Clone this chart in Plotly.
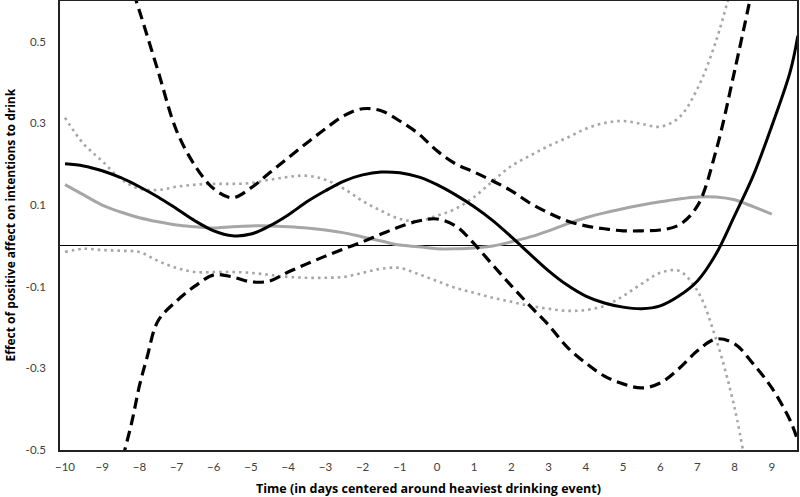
import plotly.graph_objects as go

# Days relative to heaviest drinking event
x_est = [-10, -9.5, -9, -8.5, -8, -7.5, -7, -6.5, -6, -5.5, -5, -4.5, -4, -3.5, -3, -2.5, -2, -1.5, -1, -0.5,
         0, 0.5, 1, 1.5, 2, 2.5, 3, 3.5, 4, 4.5, 5, 5.5, 6, 6.5, 7, 7.5, 8, 8.5, 9, 9.5, 9.7]
black_est = [0.201, 0.196, 0.184, 0.167, 0.145, 0.120, 0.091, 0.061, 0.037, 0.025, 0.029, 0.049, 0.076, 0.108,
             0.135, 0.159, 0.174, 0.181, 0.179, 0.169, 0.150, 0.125, 0.096, 0.062, 0.022, -0.020, -0.061, -0.096,
             -0.123, -0.140, -0.150, -0.154, -0.147, -0.123, -0.086, -0.020, 0.074, 0.172, 0.294, 0.429, 0.515]

x_gray = [-10, -9.5, -9, -8.5, -8, -7.5, -7, -6.5, -6, -5.5, -5, -4.5, -4, -3.5, -3, -2.5, -2, -1.5, -1, -0.5,
          0, 0.5, 1, 1.5, 2, 2.5, 3, 3.5, 4, 4.5, 5, 5.5, 6, 6.5, 7, 7.5, 8, 8.5, 9]
gray_est = [0.150, 0.125, 0.100, 0.083, 0.069, 0.059, 0.051, 0.047, 0.044, 0.047, 0.049, 0.049, 0.047, 0.044,
            0.039, 0.032, 0.022, 0.012, 0.002, -0.002, -0.007, -0.007, -0.005, 0.000, 0.010, 0.022, 0.037, 0.054,
            0.069, 0.081, 0.091, 0.100, 0.108, 0.115, 0.120, 0.120, 0.113, 0.096, 0.078]

x_black_up = [-8.3, -8, -7.5, -7, -6.5, -6, -5.5, -5, -4.5, -4, -3.5, -3, -2.5, -2, -1.5, -1, -0.5,
              0, 0.5, 1, 1.5, 2, 2.5, 3, 3.5, 4, 4.5, 5, 5.5, 6, 6.5, 7, 7.5, 8, 8.5]
black_up = [0.66, 0.576, 0.429, 0.282, 0.196, 0.140, 0.118, 0.142, 0.179, 0.216, 0.252, 0.287, 0.319, 0.336,
            0.331, 0.306, 0.275, 0.233, 0.201, 0.181, 0.159, 0.135, 0.105, 0.081, 0.061, 0.049, 0.042, 0.037,
            0.037, 0.039, 0.051, 0.098, 0.233, 0.429, 0.64]

x_black_lo = [-8.45, -8.2, -8, -7.8, -7.5, -7, -6.5, -6, -5.5, -5, -4.5, -4, -3.5, -3, -2.5, -2, -1.5, -1, -0.5,
              0, 0.5, 1, 1.5, 2, 2.5, 3, 3.5, 4, 4.5, 5, 5.5, 6, 6.5, 7, 7.5, 8, 8.5, 9, 9.5, 9.7]
black_lo = [-0.52, -0.43, -0.343, -0.275, -0.184, -0.135, -0.098, -0.071, -0.076, -0.088, -0.086, -0.064, -0.044,
            -0.025, -0.007, 0.010, 0.029, 0.047, 0.061, 0.066, 0.049, 0.005, -0.047, -0.098, -0.147, -0.194, -0.248,
            -0.287, -0.319, -0.338, -0.348, -0.336, -0.301, -0.257, -0.228, -0.240, -0.289, -0.348, -0.429, -0.478]

x_gray_up = [-10, -9.5, -9, -8.5, -8, -7.5, -7, -6.5, -6, -5.5, -5, -4.5, -4, -3.5, -3, -2.5, -2, -1.5, -1, -0.5,
             0, 0.5, 1, 1.5, 2, 2.5, 3, 3.5, 4, 4.5, 5, 5.5, 6, 6.5, 7, 7.5, 7.9]
gray_up = [0.314, 0.250, 0.208, 0.164, 0.140, 0.137, 0.145, 0.150, 0.152, 0.152, 0.154, 0.162, 0.169, 0.172,
           0.162, 0.140, 0.110, 0.086, 0.066, 0.061, 0.074, 0.091, 0.120, 0.159, 0.196, 0.221, 0.245, 0.265,
           0.287, 0.301, 0.306, 0.299, 0.292, 0.314, 0.385, 0.502, 0.63]

x_gray_lo = [-10, -9.5, -9, -8.5, -8, -7.5, -7, -6.5, -6, -5.5, -5, -4.5, -4, -3.5, -3, -2.5, -2, -1.5, -1, -0.5,
             0, 0.5, 1, 1.5, 2, 2.5, 3, 3.5, 4, 4.5, 5, 5.5, 6, 6.5, 7, 7.5, 8, 8.3]
gray_lo = [-0.015, -0.007, -0.010, -0.012, -0.015, -0.037, -0.054, -0.064, -0.064, -0.064, -0.066, -0.071, -0.076,
           -0.078, -0.078, -0.076, -0.066, -0.056, -0.054, -0.069, -0.086, -0.103, -0.115, -0.127, -0.137, -0.147,
           -0.154, -0.159, -0.157, -0.147, -0.123, -0.093, -0.066, -0.061, -0.110, -0.228, -0.397, -0.54]

x_ticks = list(range(-10, 10))
y_ticks = [-0.5, -0.3, -0.1, 0.1, 0.3, 0.5]
y_tick_labels = ["-0.5", "-0.3", "-0.1", "0.1", "0.3", "0.5"]

GRAY = "#a6a6a6"
fig = go.Figure()
fig.add_trace(go.Scatter(x=x_gray_up, y=gray_up, mode="lines", line=dict(color=GRAY, width=2.6, dash="2.6px,4px", shape="spline")))
fig.add_trace(go.Scatter(x=x_gray_lo, y=gray_lo, mode="lines", line=dict(color=GRAY, width=2.6, dash="2.6px,4px", shape="spline")))
fig.add_trace(go.Scatter(x=x_gray, y=gray_est, mode="lines", line=dict(color=GRAY, width=3, shape="spline")))
fig.add_trace(go.Scatter(x=x_black_up, y=black_up, mode="lines", line=dict(color="black", width=3.2, dash="11px,6px", shape="spline")))
fig.add_trace(go.Scatter(x=x_black_lo, y=black_lo, mode="lines", line=dict(color="black", width=3.2, dash="11px,6px", shape="spline")))
fig.add_trace(go.Scatter(x=x_est, y=black_est, mode="lines", line=dict(color="black", width=3, shape="spline")))

fig.update_layout(
    width=800, height=497,
    margin=dict(l=60, r=3, t=1, b=47),
    plot_bgcolor="white", paper_bgcolor="white",
    showlegend=False,
    font=dict(family="Lato, Open Sans, sans-serif", color="#404040", size=11),
    annotations=[
        dict(text="Time (in days centered around heaviest drinking event)", xref="paper", yref="paper",
             x=0.5, y=0, yshift=-38, xanchor="center", yanchor="middle", showarrow=False,
             font=dict(size=12.5, color="black", family="Open Sans, sans-serif", weight="bold")),
        dict(text="Effect of positive affect on intentions to drink", xref="paper", yref="paper",
             x=0, y=0.5, xshift=-50, xanchor="center", yanchor="middle", textangle=-90, showarrow=False,
             font=dict(size=12, color="black", family="Open Sans, sans-serif", weight="bold")),
    ],
)
fig.update_xaxes(
    range=[-10.134, 9.677], tickvals=x_ticks, showgrid=False, zeroline=False, automargin=False,
    showline=True, linecolor="#222", linewidth=1.5, mirror=True, ticks="",
    ticklabelstandoff=5,
    tickfont=dict(size=11.5, color="#404040"),
)
fig.update_yaxes(
    range=[-0.5, 0.6], tickvals=y_ticks, ticktext=y_tick_labels, showgrid=False, automargin=False,
    zeroline=True, zerolinecolor="black", zerolinewidth=1.2,
    showline=True, linecolor="#222", linewidth=1.5, mirror=True, ticks="",
    ticklabelstandoff=10,
    tickfont=dict(size=11.5, color="#404040"),
)
fig.write_html("out.html", config={"displayModeBar": False},
               post_script="document.body.style.margin='0';document.body.style.overflow='hidden';")
